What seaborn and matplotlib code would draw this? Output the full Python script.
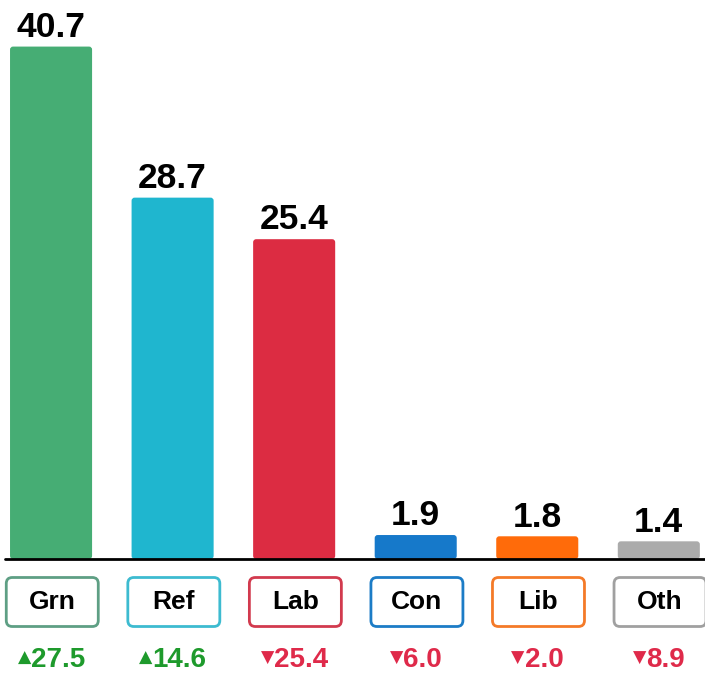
import matplotlib
matplotlib.use("Agg")
import matplotlib.pyplot as plt
import matplotlib.transforms as mtransforms
from matplotlib.patches import FancyBboxPatch
import pandas as pd
import seaborn as sns

# values
parties = ["Grn", "Ref", "Lab", "Con", "Lib", "Oth"]
votes = [40.7, 28.7, 25.4, 1.9, 1.8, 1.4]
changes = [27.5, 14.6, -25.4, -6.0, -2.0, -8.9]
colors = ["#46AD74", "#1FB6CF", "#DC2C42", "#1679CA", "#FF6B0A", "#ABABAB"]
box_edges = ["#5E9F84", "#3DBBD0", "#D23A4E", "#1C7CC6", "#F47A28", "#A0A0A0"]

df = pd.DataFrame({"party": parties, "votes": votes})

sns.set_style("white")
plt.rcParams["font.family"] = ["Liberation Sans", "DejaVu Sans"]

fig = plt.figure(figsize=(7.05, 6.73), dpi=100)
ax = fig.add_axes([0, 0, 1, 1])

sns.barplot(data=df, x="party", y="votes", hue="party", palette=dict(zip(parties, colors)),
            width=0.675, legend=False, ax=ax, saturation=1)

ax.set_xlim(-0.42, 5.38)
ax.set_ylim(-9.06, 44.4)
ax.axis("off")

# swap the plain bars for ones with slightly rounded corners
aspect = (705 / 5.8) / (673 / 53.46)
for bar in list(ax.patches):
    x, y = bar.get_x(), bar.get_y()
    w, h = bar.get_width(), bar.get_height()
    rb = FancyBboxPatch((x, y), w, h, boxstyle="round,pad=0,rounding_size=0.025",
                        mutation_aspect=aspect, facecolor=bar.get_facecolor(),
                        edgecolor="none", zorder=2)
    bar.remove()
    ax.add_patch(rb)

ax.axhline(0, xmin=0.007, xmax=1, color="black", lw=2, zorder=5)

for i, (p, v, c) in enumerate(zip(parties, votes, changes)):
    ax.annotate(f"{v:.1f}", (i, v), xytext=(0, 2), textcoords="offset points",
                ha="center", va="bottom", fontsize=25.5, fontweight="bold", color="black")

    # label box, sized in inches so the corners stay round
    trans = fig.dpi_scale_trans + mtransforms.ScaledTranslation(i + 0.01, -3.42, ax.transData)
    box = FancyBboxPatch((-0.46, -0.245), 0.92, 0.49,
                         boxstyle="round,pad=0,rounding_size=0.06",
                         transform=trans, facecolor="white", edgecolor=box_edges[i],
                         lw=2, clip_on=False, zorder=6)
    ax.add_patch(box)
    ax.text(i + 0.01, -3.42, p, ha="center", va="center", fontsize=19, fontweight="bold",
            color="black", zorder=7)

    arrow = "\u25b2" if c > 0 else "\u25bc"
    col = "#1E9A2C" if c > 0 else "#DF2A4A"
    num = ax.annotate(f"{abs(c):.1f}", (i, -8.0), xytext=(5, 0), textcoords="offset points",
                      ha="center", va="center", fontsize=20, fontweight="bold", color=col)
    ax.annotate(arrow, xy=(0, 0.5), xycoords=num, xytext=(0, 3),
                textcoords="offset points", ha="right", va="center_baseline",
                fontsize=12.5, family="DejaVu Sans", color=col)

fig.savefig("out.png", dpi=100)
